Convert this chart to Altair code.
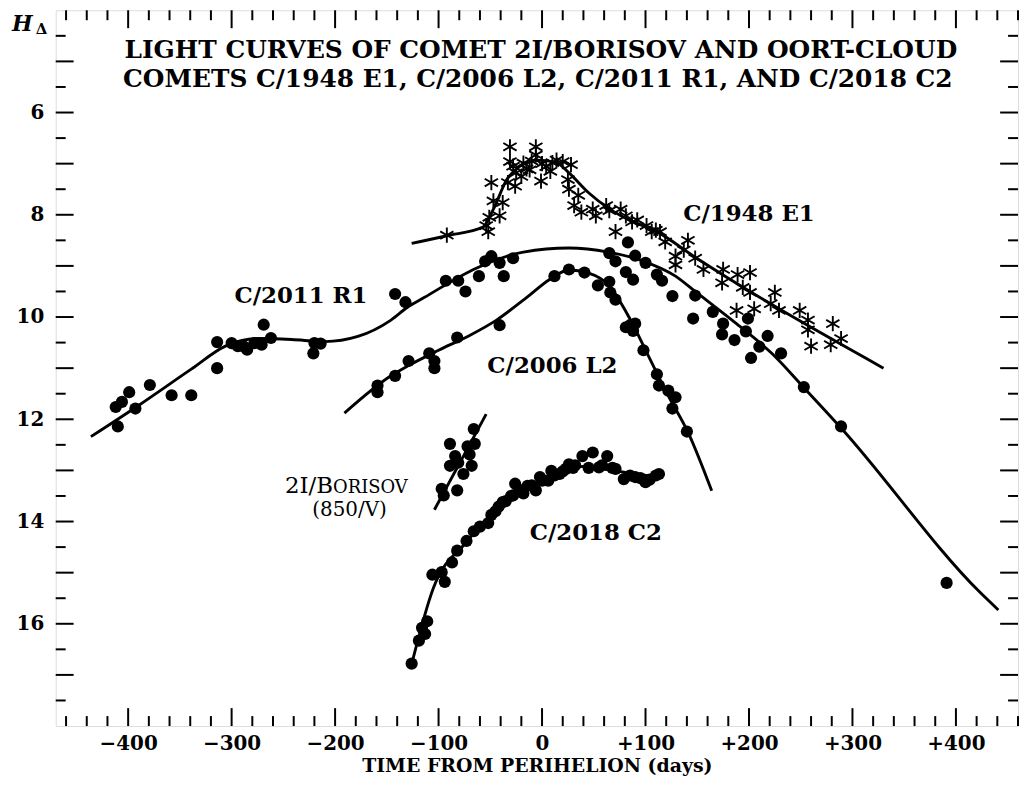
import altair as alt
import pandas as pd

# ---------------- data ----------------
# C/1948 E1 observations (asterisks)
e1_day = [-92, -54, -52, -51, -41, -47, -38, -49, -33, -26, -31, -31, -18, -25, -12, -6, -6, -1, 4, 14,
          20, 28, 25, 26, 31, 38, 49, 52, 62, 65, 71, 76, 81, 87, 101, 106, 114, 119, 141, 137,
          129, 129, 148, 156, 175, 174, 189, 201, 194, 201, 188, 205, 225, 221, 229, 249, 257, 257,
          260, 281, 289, 279, -20, -10, 0, 8, -28, -15, 10, 35, 92, 110]
e1_mag = [8.40, 8.21, 8.33, 8.05, 8.02, 7.73, 7.76, 7.37, 7.37, 7.44, 6.96, 6.67, 6.99, 7.18, 7.12, 6.67,
          6.83, 7.34, 7.06, 6.93, 6.96, 7.02, 7.31, 7.50, 7.82, 7.95, 7.89, 8.02, 7.82, 7.92, 8.33, 7.89,
          8.02, 8.14, 8.21, 8.33, 8.33, 8.53, 8.50, 8.69, 8.81, 8.98, 8.85, 9.07, 9.07, 9.33, 9.17, 9.13,
          9.42, 9.52, 9.87, 9.84, 9.52, 9.74, 9.87, 9.87, 10.06, 10.25, 10.57, 10.13, 10.42, 10.54,
          7.25, 6.95, 7.00, 7.15, 7.05, 7.10, 6.98, 7.62, 8.10, 8.30]

# C/2011 R1 observations
r1_day = [-410, -412, -406, -399, -393, -379, -358, -339, -314, -314, -300, -294, -288, -285, -278, -271,
          -269, -262, -221, -220, -214, -142, -132, -93, -81, -74, -61, -55, -49, -41, -37, -28,
          65, 71, 83, 81, 90, 88, 100, 111, 116, 126, 148, 146, 165, 175, 174, 186, 199, 197, 202,
          210, 218, 231, 253, 289, 391]
r1_mag = [12.14, 11.76, 11.66, 11.47, 11.79, 11.33, 11.53, 11.53, 11.00, 10.49, 10.51, 10.57, 10.58, 10.64,
          10.51, 10.54, 10.15, 10.41, 10.71, 10.51, 10.52, 9.55, 9.71, 9.29, 9.29, 9.50, 9.20, 8.91, 8.81,
          8.94, 9.20, 8.85, 8.75, 8.91, 8.54, 9.12, 8.80, 9.27, 8.94, 9.17, 9.29, 9.59, 9.58, 10.03, 9.90,
          10.13, 10.34, 10.45, 10.03, 10.28, 10.80, 10.58, 10.37, 10.71, 11.37, 12.14, 15.20]

# C/2006 L2 observations
l2_day = [-159, -159, -142, -129, -109, -104, -104, -82, -41, 12, 26, 41, 54, 65, 66, 71, 81, 85, 90, 88,
          98, 111, 113, 122, 129, 126, 140]
l2_mag = [11.34, 11.47, 11.15, 10.86, 10.71, 11.00, 10.86, 10.40, 10.16, 9.20, 9.07, 9.13, 9.38, 9.31,
          9.52, 9.66, 10.20, 10.16, 10.13, 10.27, 10.65, 11.12, 11.34, 11.44, 11.57, 11.79, 12.24]

# C/2018 C2 observations
c2_day = [-126, -119, -116, -111, -113, -94, -97, -106, -87, -82, -73, -66, -52, -49, -42, -26, -28, -18,
          -10, -2, 6, 9, 17, 23, 26, 39, 49, 55, 63, 71, 79, 90, 100, 110, 113, -6, -35, 32,
          -60, -45, -38, -30, -22, -14, 0, 12, 20, 30, 45, 58, 68, 85, 95, 104]
c2_mag = [16.78, 16.33, 16.08, 15.95, 16.20, 15.18, 14.99, 15.04, 14.80, 14.57, 14.38, 14.19, 14.03, 13.87,
          13.71, 13.26, 13.49, 13.45, 13.29, 13.13, 13.20, 13.01, 13.07, 12.97, 12.88, 12.72, 12.65, 12.94,
          12.72, 12.97, 13.17, 13.13, 13.23, 13.10, 13.07, 13.39, 13.60, 12.90,
          14.10, 13.80, 13.62, 13.50, 13.38, 13.30, 13.20, 13.10, 13.02, 12.95, 12.95, 12.90, 12.95,
          13.10, 13.15, 13.18]

# 2I/Borisov observations
bo_day = [-89, -84, -89, -81, -72, -66, -65, -68, -76, -82, -97, -95, -70]
bo_mag = [12.48, 12.72, 12.91, 12.85, 12.53, 12.19, 12.48, 12.91, 13.07, 13.39, 13.36, 13.49, 12.69]

# fitted light curves
e1c_day = [-126, -92, -57, -47, -34, -22, -6, 13, 26, 45, 64, 84, 110, 148, 330]
e1c_mag = [8.56, 8.41, 8.24, 7.89, 7.31, 7.06, 6.93, 6.97, 7.18, 7.57, 7.87, 8.10, 8.32, 8.83, 11.0]
r1c_day = [-436, -390, -339, -306, -274, -242, -210, -178, -146, -130, -114, -63, -18, 26, 64, 97, 129,
           148, 186, 222, 253, 289, 423, 441]
r1c_mag = [12.34, 11.73, 11.02, 10.57, 10.42, 10.44, 10.48, 10.38, 10.06, 9.81, 9.62, 9.04, 8.73, 8.65,
           8.73, 8.90, 9.20, 9.50, 10.10, 10.71, 11.38, 12.17, 15.38, 15.73]
l2c_day = [-191, -146, -130, -100, -70, -44, -15, 7, 26, 45, 64, 84, 103, 122, 141, 164]
l2c_mag = [11.88, 11.15, 10.96, 10.65, 10.36, 10.06, 9.62, 9.27, 9.08, 9.14, 9.37, 10.0, 10.77, 11.54,
           12.25, 13.4]
c2c_day = [-127, -105, -73, -54, -25, 7, 40, 71, 110, 117]
c2c_mag = [16.87, 15.30, 14.40, 13.97, 13.51, 13.13, 12.92, 13.01, 13.11, 13.10]
boc_day = [-104, -54]
boc_mag = [13.77, 11.90]

# comet labels
lab_text = ["C/1948 E1", "C/2011 R1", "C/2006 L2", "C/2018 C2"]
lab_day = [200, -233, 10, 52]
lab_mag = [7.98, 9.58, 10.96, 14.22]

title_lines = ["LIGHT CURVES OF COMET 2I/BORISOV AND OORT-CLOUD",
               "COMETS C/1948 E1, C/2006 L2, C/2011 R1, AND C/2018 C2"]

x_labels = [-400, -300, -200, -100, 0, 100, 200, 300, 400]
x_minor = [v for v in range(-460, 461, 20) if v % 100 != 0]
y_labels = [6, 8, 10, 12, 14, 16]
y_major = [5, 6, 7, 8, 9, 10, 11, 12, 13, 14, 15, 16, 17]
y_minor = [4.5, 5.5, 6.5, 7.5, 8.5, 9.5, 10.5, 11.5, 12.5, 13.5, 14.5, 15.5, 16.5, 17.5]

# ---------------- layout ----------------
W, H = 968, 720
FONT = "DejaVu Serif"
MAJ, MIN = 18, 10

pts = pd.DataFrame({"day": r1_day + l2_day + c2_day + bo_day, "mag": r1_mag + l2_mag + c2_mag + bo_mag})
stars = pd.DataFrame({"day": e1_day, "mag": e1_mag})


def curve(name, d, m):
    return pd.DataFrame({"comet": name, "day": d, "mag": m, "o": list(range(len(d)))})


curves = pd.concat([
    curve("E1", e1c_day, e1c_mag), curve("R1", r1c_day, r1c_mag), curve("L2", l2c_day, l2c_mag),
    curve("C2", c2c_day, c2c_mag), curve("BO", boc_day, boc_mag)])

xs = alt.Scale(domain=[-470, 460], nice=False, zero=False)
ys = alt.Scale(domain=[4, 18], reverse=True, nice=False, zero=False)

x_axis = alt.Axis(values=x_labels, ticks=False, domain=False, grid=False,
                  labelExpr="datum.value > 0 ? '+' + datum.value : (datum.value < 0 ? '\u2212' + abs(datum.value) : '0')",
                  labelFont=FONT, labelFontWeight="bold", labelFontSize=20, labelPadding=8,
                  labelColor="black", title="TIME FROM PERIHELION (days)", titleFont=FONT,
                  titleFontWeight="bold", titleFontSize=19, titleColor="black", titlePadding=3)
y_axis = alt.Axis(values=y_labels, ticks=False, domain=False, grid=False, labelFont=FONT,
                  labelFontWeight="bold", labelFontSize=20, labelPadding=12, labelColor="black", title=None)

lines = alt.Chart(curves).mark_line(color="black", strokeWidth=2.9, interpolate="monotone").encode(
    x=alt.X("day:Q", scale=xs, axis=x_axis),
    y=alt.Y("mag:Q", scale=ys, axis=y_axis),
    detail="comet:N", order="o:Q")

dots = alt.Chart(pts).mark_circle(color="black", size=150, opacity=1).encode(x="day:Q", y="mag:Q")

ast_path = "M0,-1L0,1M-0.87,-0.5L0.87,0.5M-0.87,0.5L0.87,-0.5"
asts = alt.Chart(stars).mark_point(shape=ast_path, filled=False, color="black", strokeWidth=1.9,
                                   size=235, opacity=1).encode(x="day:Q", y="mag:Q")

labels = alt.Chart(pd.DataFrame({"t": lab_text, "day": lab_day, "mag": lab_mag})).mark_text(
    font=FONT, fontWeight="bold", fontSize=23, baseline="middle", align="center", color="black").encode(
    x="day:Q", y="mag:Q", text="t:N")

bor1 = alt.Chart(pd.DataFrame({"t": ["2I/B"], "day": [-202], "mag": [13.44]})).mark_text(
    font=FONT, fontSize=23, baseline="alphabetic", align="right", color="black").encode(
    x="day:Q", y="mag:Q", text="t:N")
bor2 = alt.Chart(pd.DataFrame({"t": ["ORISOV"], "day": [-202], "mag": [13.44]})).mark_text(
    font=FONT, fontSize=18, baseline="alphabetic", align="left", color="black").encode(
    x="day:Q", y="mag:Q", text="t:N")
bor3 = alt.Chart(pd.DataFrame({"t": ["(850/V)"], "day": [-186], "mag": [13.78]})).mark_text(
    font=FONT, fontSize=20, baseline="middle", align="center", color="black").encode(
    x="day:Q", y="mag:Q", text="t:N")

ttl1 = alt.Chart(pd.DataFrame({"t": [title_lines[0]]})).mark_text(
    font=FONT, fontWeight="bold", fontSize=25, baseline="middle", align="center", color="black").encode(
    x=alt.value(488), y=alt.value(40), text="t:N")
ttl2 = alt.Chart(pd.DataFrame({"t": [title_lines[1]]})).mark_text(
    font=FONT, fontWeight="bold", fontSize=25, baseline="middle", align="center", color="black").encode(
    x=alt.value(485), y=alt.value(69), text="t:N")

hsym = alt.Chart(pd.DataFrame({"t": ["H"]})).mark_text(
    font=FONT, fontWeight="bold", fontStyle="italic", fontSize=22, align="left", baseline="alphabetic",
    color="black").encode(x=alt.value(-44), y=alt.value(21), text="t:N")
hsub = alt.Chart(pd.DataFrame({"t": ["\u0394"]})).mark_text(
    font=FONT, fontWeight="bold", fontSize=15, align="left", baseline="alphabetic",
    color="black").encode(x=alt.value(-20), y=alt.value(24), text="t:N")

xmaj = pd.DataFrame({"day": x_labels})
xmin = pd.DataFrame({"day": x_minor})
ymaj = pd.DataFrame({"mag": y_major})
ymin = pd.DataFrame({"mag": y_minor})


def xt(df, top, ln):
    y0 = 0 if top else H
    y1 = ln if top else H - ln
    return alt.Chart(df).mark_rule(color="black", strokeWidth=2).encode(
        x="day:Q", y=alt.value(y0), y2=alt.value(y1))


def yt(df, right, ln):
    x0 = W if right else 0
    x1 = W - ln if right else ln
    return alt.Chart(df).mark_rule(color="black", strokeWidth=2).encode(
        y="mag:Q", x=alt.value(x0), x2=alt.value(x1))


ticks = [xt(xmaj, False, MAJ), xt(xmin, False, MIN), xt(xmaj, True, MAJ), xt(xmin, True, MIN),
         yt(ymaj, False, MAJ), yt(ymin, False, MIN), yt(ymaj, True, MAJ), yt(ymin, True, MIN)]

chart = alt.layer(lines, dots, asts, labels, bor1, bor2, bor3, ttl1, ttl2, hsym, hsub, *ticks).properties(
    width=W, height=H,
    autosize=alt.AutoSizeParams(type="none"),
    padding={"left": 48, "top": 0, "right": 2, "bottom": 53},
).configure_view(stroke="black", strokeWidth=2.5).configure(background="white")

chart.save("out.html", embed_options={"renderer": "svg", "actions": False})
